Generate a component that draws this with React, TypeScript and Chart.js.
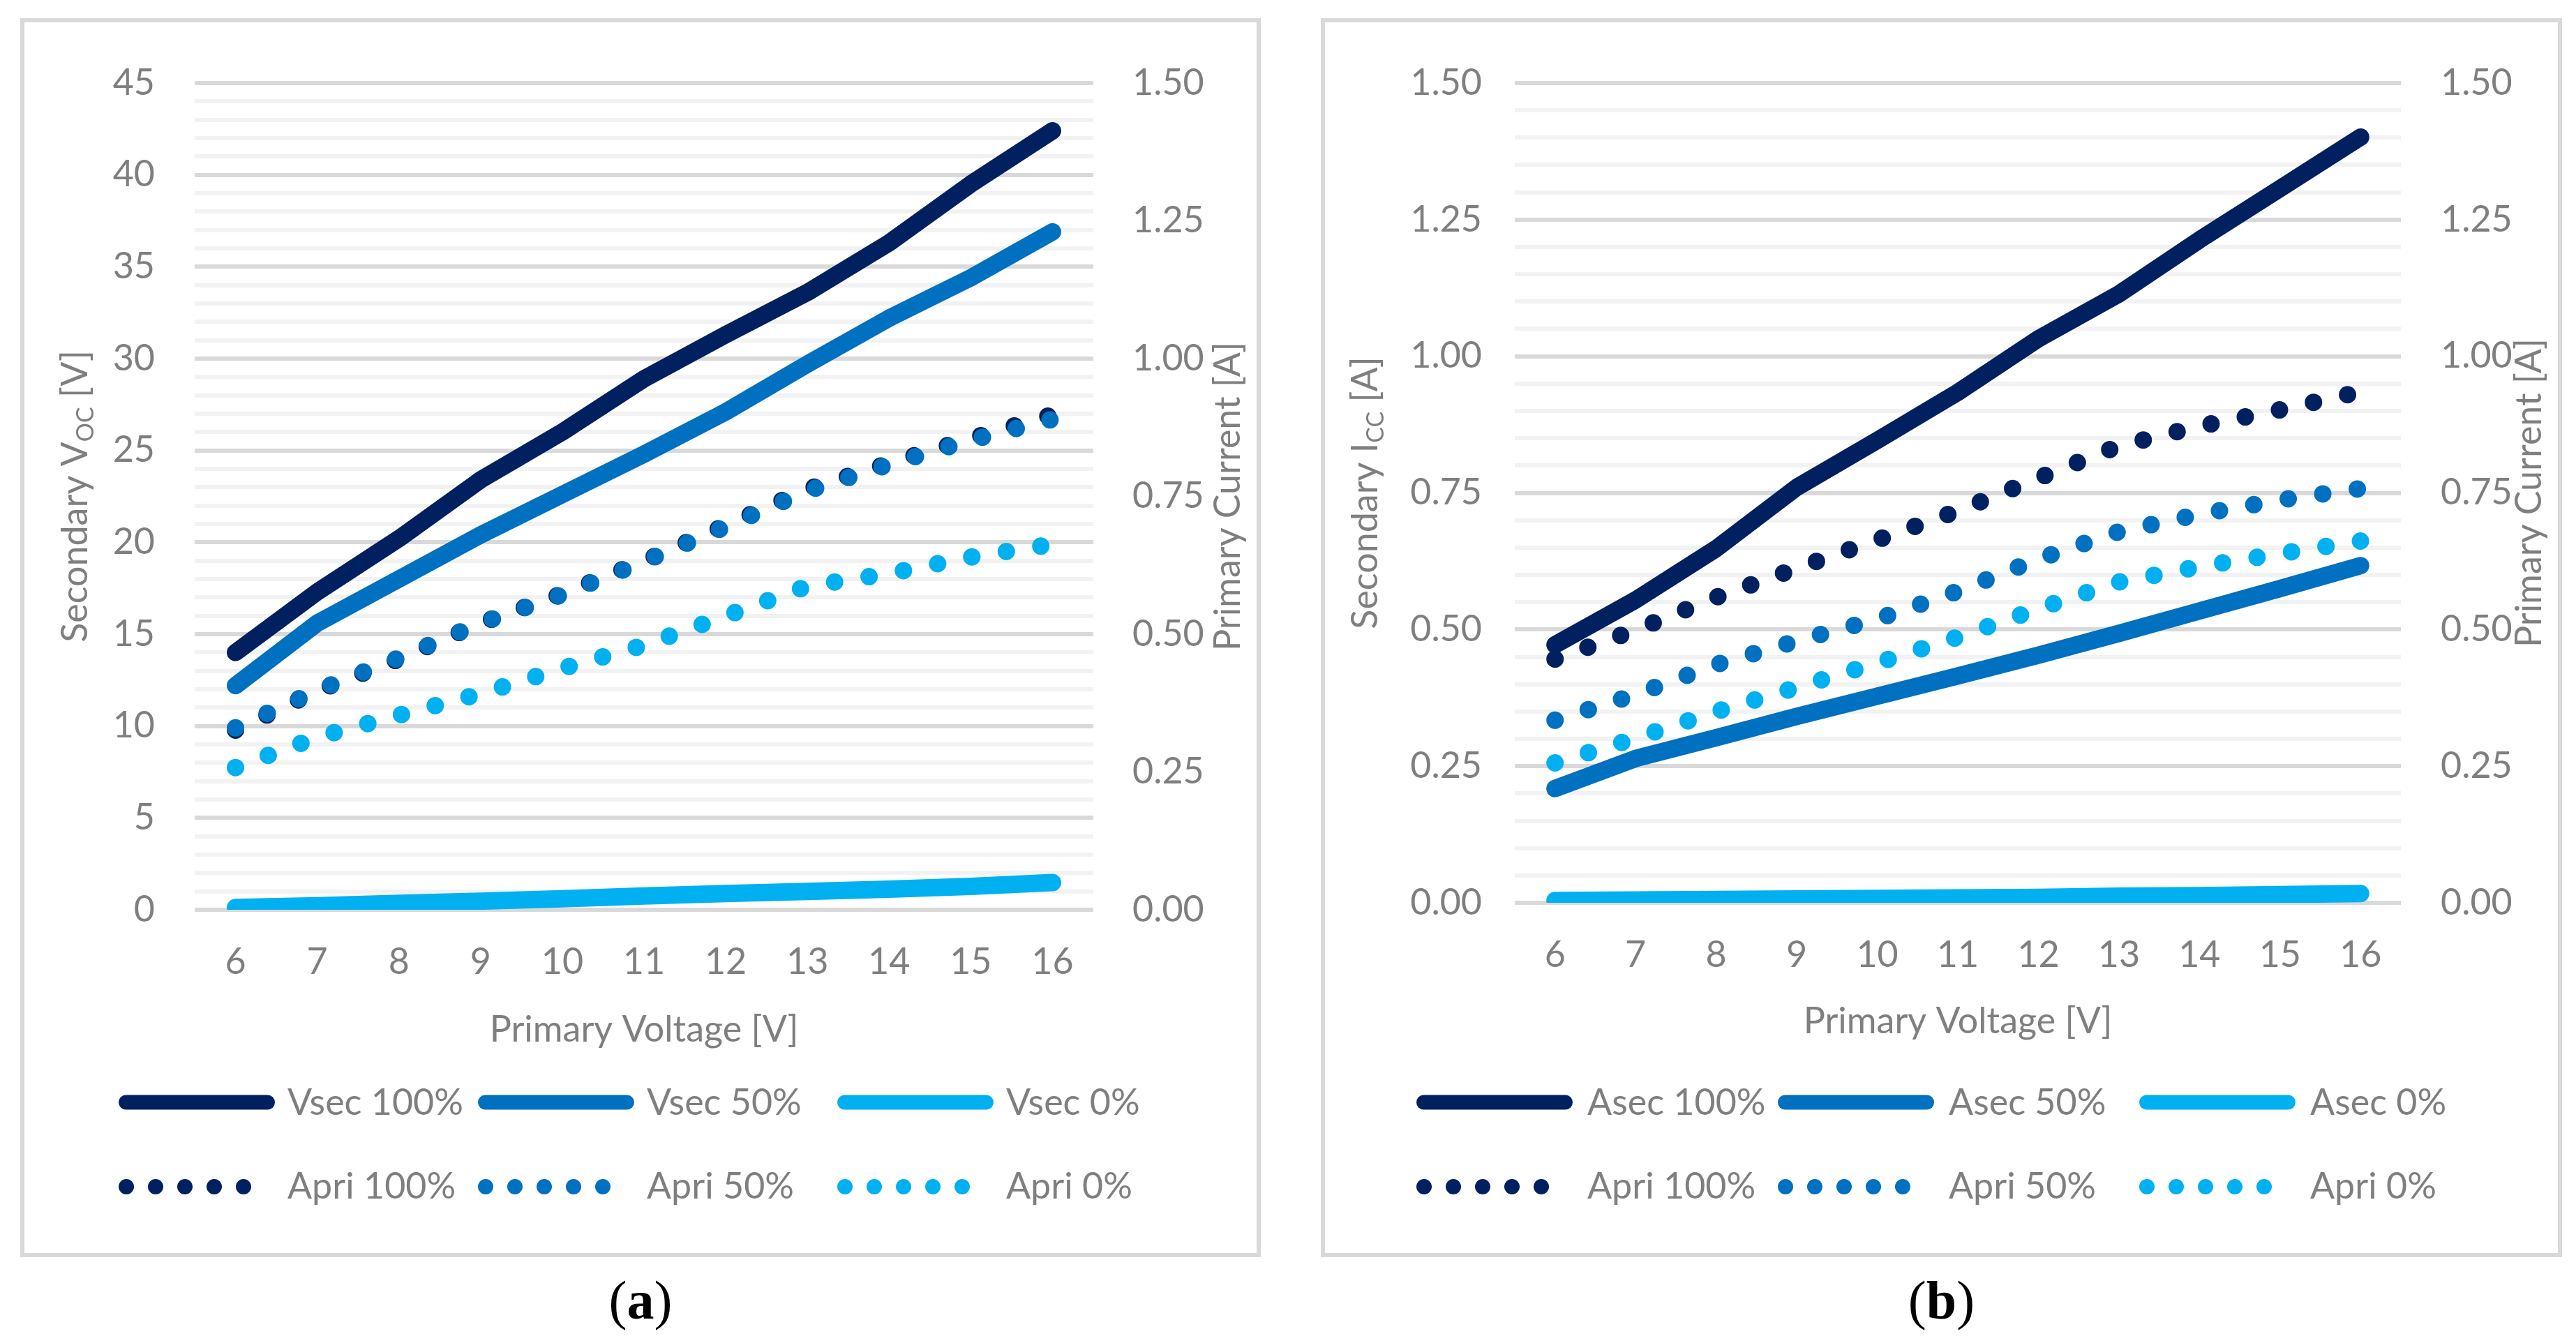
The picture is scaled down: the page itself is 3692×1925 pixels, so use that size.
import React, { useEffect, useRef } from 'react';
import { Chart, registerables } from 'chart.js';

Chart.register(...registerables);

// ---------- data ----------
const X_LABELS = ['6', '7', '8', '9', '10', '11', '12', '13', '14', '15', '16'];

// (a) secondary open-circuit voltage [V] (left axis)
const VSEC_100 = [14.0, 17.3, 20.2, 23.4, 26.0, 28.9, 31.3, 33.6, 36.3, 39.5, 42.4];
const VSEC_50 = [12.2, 15.6, 18.0, 20.4, 22.6, 24.8, 27.1, 29.7, 32.2, 34.4, 36.9];
const VSEC_0 = [0.12, 0.22, 0.35, 0.47, 0.6, 0.75, 0.88, 1.0, 1.12, 1.27, 1.48];
// (a) primary current [A] (right axis)
const APRI_A_100 = [0.326, 0.397, 0.455, 0.52, 0.573, 0.633, 0.697, 0.763, 0.81, 0.855, 0.898];
const APRI_A_50 = [0.33, 0.398, 0.457, 0.52, 0.572, 0.632, 0.695, 0.76, 0.808, 0.852, 0.89];
const APRI_A_0 = [0.258, 0.313, 0.353, 0.392, 0.438, 0.48, 0.533, 0.587, 0.61, 0.64, 0.663];

// (b) secondary short-circuit current [A] (left axis)
const ASEC_100 = [0.472, 0.554, 0.648, 0.76, 0.846, 0.934, 1.032, 1.114, 1.213, 1.307, 1.401];
const ASEC_50 = [0.209, 0.264, 0.302, 0.341, 0.378, 0.415, 0.453, 0.493, 0.534, 0.575, 0.617];
const ASEC_0 = [0.004, 0.005, 0.006, 0.007, 0.008, 0.009, 0.01, 0.012, 0.013, 0.015, 0.017];
// (b) primary current [A] (right axis)
const APRI_B_100 = [0.446, 0.499, 0.559, 0.612, 0.664, 0.717, 0.777, 0.836, 0.872, 0.902, 0.935];
const APRI_B_50 = [0.334, 0.381, 0.436, 0.479, 0.519, 0.57, 0.629, 0.679, 0.711, 0.737, 0.758];
const APRI_B_0 = [0.256, 0.301, 0.35, 0.394, 0.439, 0.486, 0.538, 0.587, 0.615, 0.639, 0.662];

const A_LABELS = ['Vsec 100%', 'Vsec 50%', 'Vsec 0%', 'Apri 100%', 'Apri 50%', 'Apri 0%'];
const B_LABELS = ['Asec 100%', 'Asec 50%', 'Asec 0%', 'Apri 100%', 'Apri 50%', 'Apri 0%'];
const SERIES_COLORS = ['#002060', '#0070C0', '#00B0F0'];

const A_Y_TICKS = [0, 5, 10, 15, 20, 25, 30, 35, 40, 45];
const A_Y1_TICKS = [0, 0.25, 0.5, 0.75, 1.0, 1.25, 1.5];
const B_Y_TICKS = [0, 0.25, 0.5, 0.75, 1.0, 1.25, 1.5];
const B_Y1_TICKS = [0, 0.25, 0.5, 0.75, 1.0, 1.25, 1.5];
const MINOR_DIVISIONS = 5;

// ---------- style ----------
const FONT = 'Lato';
const FS = 52;
const TEXT = '#7f7f7f';
const GRID_MAJOR = '#d9d9d9';
const GRID_MINOR = '#f2f2f2';

type Part = { t: string; sub?: boolean };

function gridValues(major: number[]): number[] {
  const out: number[] = [];
  for (let i = 0; i < major.length - 1; i++) {
    const a = major[i];
    const b = major[i + 1];
    for (let k = 0; k < MINOR_DIVISIONS; k++) {
      out.push(Math.round((a + ((b - a) * k) / MINOR_DIVISIONS) * 10000) / 10000);
    }
  }
  out.push(major[major.length - 1]);
  return out;
}

function isIn(list: number[], v: number) {
  return list.some((m) => Math.abs(m - v) < 1e-6);
}

function drawRotated(ctx: CanvasRenderingContext2D, parts: Part[], x: number, y: number) {
  ctx.save();
  ctx.translate(x, y);
  ctx.rotate(-Math.PI / 2);
  const main = `${FS}px ${FONT}`;
  const sub = `${Math.round(FS * 0.65)}px ${FONT}`;
  let total = 0;
  for (const p of parts) {
    ctx.font = p.sub ? sub : main;
    total += ctx.measureText(p.t).width;
  }
  let cx = -total / 2;
  ctx.textAlign = 'left';
  ctx.textBaseline = 'alphabetic';
  for (const p of parts) {
    ctx.font = p.sub ? sub : main;
    ctx.fillText(p.t, cx, p.sub ? 9 : 0);
    cx += ctx.measureText(p.t).width;
  }
  ctx.restore();
}

const decorPlugin = {
  id: 'decor',
  afterDraw(chart: any, _args: any, o: any) {
    const ctx: CanvasRenderingContext2D = chart.ctx;
    const ca = chart.chartArea;
    ctx.save();
    ctx.fillStyle = TEXT;
    ctx.font = `${FS}px ${FONT}`;
    ctx.textAlign = 'center';
    ctx.textBaseline = 'alphabetic';
    ctx.fillText(o.xTitle, (ca.left + ca.right) / 2, o.xTitleBaseline);
    const midY = (ca.top + ca.bottom) / 2;
    drawRotated(ctx, o.yTitle, o.yTitleX, midY);
    drawRotated(ctx, o.y1Title, o.y1TitleX, midY);

    // legend
    const lg = o.legend;
    chart.data.datasets.forEach((ds: any, i: number) => {
      const col = i % 3;
      const row = Math.floor(i / 3);
      const x0 = lg.startX + col * lg.colSpacing;
      const y = lg.rowY[row];
      ctx.fillStyle = ds.borderColor;
      ctx.strokeStyle = ds.borderColor;
      if (ds.borderDash && ds.borderDash.length) {
        for (let k = 0; k < 5; k++) {
          ctx.beginPath();
          ctx.arc(x0 + 11 + k * 42, y, 11, 0, Math.PI * 2);
          ctx.fill();
        }
      } else {
        ctx.lineWidth = 21;
        ctx.lineCap = 'round';
        ctx.beginPath();
        ctx.moveTo(x0 + 10.5, y);
        ctx.lineTo(x0 + 213.5, y);
        ctx.stroke();
      }
      ctx.fillStyle = TEXT;
      ctx.font = `${FS}px ${FONT}`;
      ctx.textAlign = 'left';
      ctx.textBaseline = 'alphabetic';
      ctx.fillText(ds.label, x0 + lg.textOffset, lg.textBaseline[row]);
    });
    ctx.restore();
  },
};

type PanelCfg = {
  left: number;
  width: number;
  labels: string[];
  series: number[][];
  yTicks: number[];
  y1Ticks: number[];
  yLabelDigits: number;
  padding: { left: number; right: number; top: number; bottom: number };
  yPad: number;
  y1Pad: number;
  decor: any;
};

const AXIS_W = 200;

function Panel({ cfg }: { cfg: PanelCfg }) {
  const ref = useRef<HTMLCanvasElement>(null);
  useEffect(() => {
    const grid = gridValues(cfg.yTicks);
    const font = { family: FONT, size: FS };
    const datasets = cfg.series.map((data, i) => ({
      label: cfg.labels[i],
      data,
      yAxisID: i < 3 ? 'y' : 'y1',
      borderColor: SERIES_COLORS[i % 3],
      backgroundColor: SERIES_COLORS[i % 3],
      borderWidth: 25,
      borderDash: i < 3 ? [] : [0, 50],
      borderCapStyle: 'round',
      borderJoinStyle: 'round',
      pointRadius: 0,
      pointHoverRadius: 0,
      tension: 0,
      fill: false,
      order: 6 - i,
    }));
    const chart = new Chart(ref.current as HTMLCanvasElement, {
      type: 'line',
      data: { labels: X_LABELS, datasets: datasets as any },
      plugins: [decorPlugin as any],
      options: {
        responsive: false,
        animation: false,
        devicePixelRatio: 1,
        events: [],
        layout: { padding: cfg.padding },
        plugins: {
          legend: { display: false },
          tooltip: { enabled: false },
          decor: cfg.decor,
        } as any,
        scales: {
          x: {
            type: 'category',
            offset: true,
            grid: { display: false, drawTicks: false },
            border: { display: false },
            ticks: { font, color: TEXT, padding: 44, autoSkip: false, maxRotation: 0 },
            afterFit: (s: any) => {
              s.height = 200;
            },
          },
          y: {
            type: 'linear',
            position: 'left',
            min: cfg.yTicks[0],
            max: cfg.yTicks[cfg.yTicks.length - 1],
            afterBuildTicks: (axis: any) => {
              axis.ticks = grid.map((v) => ({ value: v }));
            },
            ticks: {
              font,
              color: TEXT,
              padding: cfg.yPad,
              autoSkip: false,
              callback: (v: any) => (isIn(cfg.yTicks, Number(v)) ? Number(v).toFixed(cfg.yLabelDigits) : ''),
            },
            grid: {
              lineWidth: 6,
              drawTicks: false,
              color: (c: any) => (c.tick && isIn(cfg.yTicks, c.tick.value) ? GRID_MAJOR : GRID_MINOR),
            },
            border: { display: false },
            afterFit: (s: any) => {
              s.width = AXIS_W;
            },
          },
          y1: {
            type: 'linear',
            position: 'right',
            min: cfg.y1Ticks[0],
            max: cfg.y1Ticks[cfg.y1Ticks.length - 1],
            afterBuildTicks: (axis: any) => {
              axis.ticks = cfg.y1Ticks.map((v) => ({ value: v }));
            },
            ticks: {
              font,
              color: TEXT,
              padding: cfg.y1Pad,
              autoSkip: false,
              callback: (v: any) => Number(v).toFixed(2),
            },
            grid: { display: false, drawTicks: false },
            border: { display: false },
            afterFit: (s: any) => {
              s.width = AXIS_W;
            },
          },
        },
      } as any,
    });
    return () => chart.destroy();
  }, []);
  return (
    <canvas
      ref={ref}
      width={cfg.width}
      height={1925}
      style={{ position: 'absolute', left: cfg.left, top: 0, width: cfg.width, height: 1925 }}
    />
  );
}

// chart area (canvas coords): A: 279..1567 x 119..1304 ; B: 321..1591 x 119..1294
const PANEL_A: PanelCfg = {
  left: 0,
  width: 1850,
  labels: A_LABELS,
  series: [VSEC_100, VSEC_50, VSEC_0, APRI_A_100, APRI_A_50, APRI_A_0],
  yTicks: A_Y_TICKS,
  y1Ticks: A_Y1_TICKS,
  yLabelDigits: 0,
  padding: { left: 279 - AXIS_W, right: 1850 - 1567 - AXIS_W, top: 119, bottom: 1925 - 1304 - 200 },
  yPad: 57,
  y1Pad: 56,
  decor: {
    xTitle: 'Primary Voltage [V]',
    xTitleBaseline: 1493,
    yTitle: [{ t: 'Secondary V' }, { t: 'OC', sub: true }, { t: ' [V]' }],
    yTitleX: 125,
    y1Title: [{ t: 'Primary Current [A]' }],
    y1TitleX: 1777,
    legend: { startX: 170, colSpacing: 515, textOffset: 242, rowY: [1580, 1701], textBaseline: [1598, 1718] },
  },
};

const PANEL_B: PanelCfg = {
  left: 1850,
  width: 1842,
  labels: B_LABELS,
  series: [ASEC_100, ASEC_50, ASEC_0, APRI_B_100, APRI_B_50, APRI_B_0],
  yTicks: B_Y_TICKS,
  y1Ticks: B_Y1_TICKS,
  yLabelDigits: 2,
  padding: { left: 321 - AXIS_W, right: 1842 - 1591 - AXIS_W, top: 119, bottom: 1925 - 1294 - 200 },
  yPad: 47,
  y1Pad: 57,
  decor: {
    xTitle: 'Primary Voltage [V]',
    xTitleBaseline: 1481,
    yTitle: [{ t: 'Secondary I' }, { t: 'CC', sub: true }, { t: ' [A]' }],
    yTitleX: 124,
    y1Title: [{ t: 'Primary Current [A]' }],
    y1TitleX: 1792,
    legend: { startX: 180, colSpacing: 518, textOffset: 245, rowY: [1580, 1701], textBaseline: [1598, 1718] },
  },
};

const frame: React.CSSProperties = {
  position: 'absolute',
  top: 26,
  height: 1776,
  border: '6px solid #d9d9d9',
  boxSizing: 'border-box',
};

const caption: React.CSSProperties = {
  position: 'absolute',
  top: 1825,
  height: 78,
  lineHeight: '78px',
  textAlign: 'center',
  fontFamily: '"Liberation Serif", serif',
  fontSize: 78,
  color: '#000',
};

export default function App() {
  return (
    <div style={{ position: 'absolute', left: 0, top: 0, width: 3692, height: 1925, background: '#fff', overflow: 'hidden' }}>
      <div style={{ ...frame, left: 29, width: 1778 }} />
      <div style={{ ...frame, left: 1893, width: 1779 }} />
      <Panel cfg={PANEL_A} />
      <Panel cfg={PANEL_B} />
      <div style={{ ...caption, left: 29, width: 1778 }}>
        (<b>a</b>)
      </div>
      <div style={{ ...caption, left: 1893, width: 1779 }}>
        (<b>b</b>)
      </div>
    </div>
  );
}
